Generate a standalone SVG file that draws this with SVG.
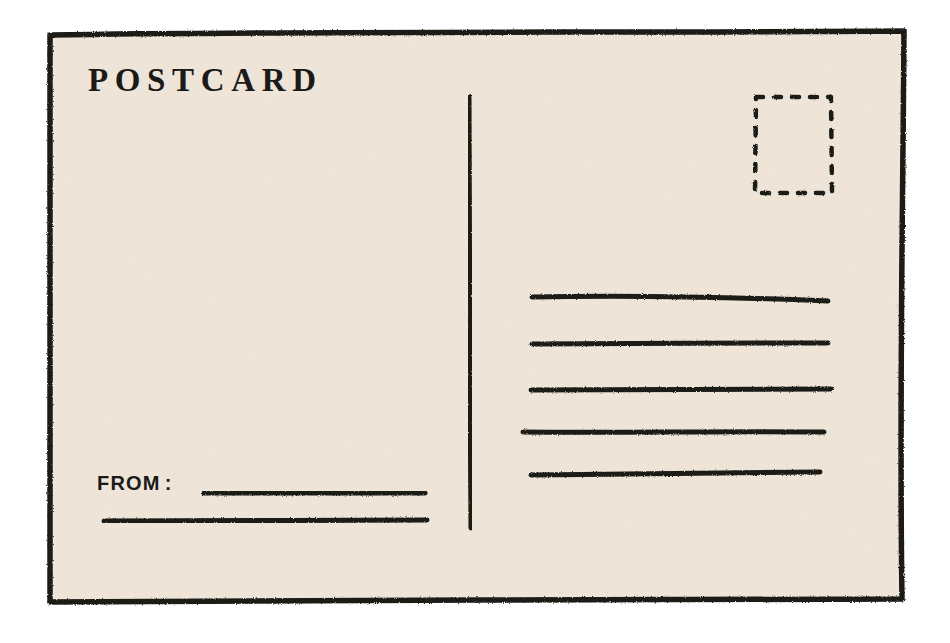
<svg xmlns="http://www.w3.org/2000/svg" width="950" height="643" viewBox="0 0 950 643">
  <defs>
    <filter id="paper" x="0" y="0" width="100%" height="100%">
      <feTurbulence type="fractalNoise" baseFrequency="0.05 0.35" numOctaves="3" seed="4" result="n"/>
      <feColorMatrix in="n" type="matrix" values="0 0 0 0 0.6  0 0 0 0 0.55  0 0 0 0 0.5  0 0 0 0.12 0" result="t"/>
      <feComposite in="t" in2="SourceGraphic" operator="in" result="tc"/>
      <feMerge><feMergeNode in="SourceGraphic"/><feMergeNode in="tc"/></feMerge>
    </filter>
    <filter id="pencil" x="-5%" y="-5%" width="110%" height="110%">
      <feTurbulence type="fractalNoise" baseFrequency="0.9" numOctaves="2" seed="7" result="g"/>
      <feDisplacementMap in="SourceGraphic" in2="g" scale="2.5" xChannelSelector="R" yChannelSelector="G"/>
    </filter>
    <style>
      .ink { fill: none; stroke: #1b1a18; stroke-linecap: round; stroke-linejoin: round; }
      .line { stroke-width: 5; }
      .title { font-family: "Liberation Serif", "DejaVu Serif", serif; font-weight: bold; font-size: 33px; fill: #1b1a18; }
      .from { font-family: "Liberation Sans", "DejaVu Sans", sans-serif; font-weight: bold; font-size: 20px; letter-spacing: 1.2px; fill: #1b1a18; }
    </style>
  </defs>
  <rect width="950" height="643" fill="#ffffff"/>
  <g id="card">
    <path d="M50,35 C300,31 600,33 904,31 C903,200 899,400 902,599 C650,601 300,599 50,602 C51,400 49,200 50,35 Z" fill="#f0e6d9" filter="url(#paper)"/>
    <path class="ink" d="M50,35 C300,31 600,33 904,31 C903,200 899,400 902,599 C650,601 300,599 50,602 C51,400 49,200 50,35 Z" stroke-width="5.5" filter="url(#pencil)"/>
  </g>
  <g id="title">
    <text class="title" x="88" y="91" textLength="228" lengthAdjust="spacing">POSTCARD</text>
  </g>
  <g id="divider">
    <path class="ink line" d="M469,97 C469,250 470,380 471,528" filter="url(#pencil)"/>
  </g>
  <g id="stamp">
    <path class="ink" d="M756,97 L831,97 L832,193 L755,193 Z" stroke-width="4.5" stroke-dasharray="7 11" filter="url(#pencil)"/>
  </g>
  <g id="address-lines" filter="url(#pencil)">
    <path class="ink line" d="M532,297 C630,295 730,297 828,301"/>
    <path class="ink line" d="M532,344 C630,343 730,343 828,343"/>
    <path class="ink line" d="M531,390 C630,389 730,390 831,389"/>
    <path class="ink line" d="M523,432 C620,433 720,431 824,432"/>
    <path class="ink line" d="M531,475 C630,474 730,473 820,472"/>
  </g>
  <g id="from">
    <text class="from" x="97" y="490">FROM<tspan dx="4">:</tspan></text>
    <g filter="url(#pencil)">
      <path class="ink line" d="M204,493 C280,493 350,493 425,493"/>
      <path class="ink line" d="M104,521 C210,521 320,520 427,520"/>
    </g>
  </g>
</svg>
